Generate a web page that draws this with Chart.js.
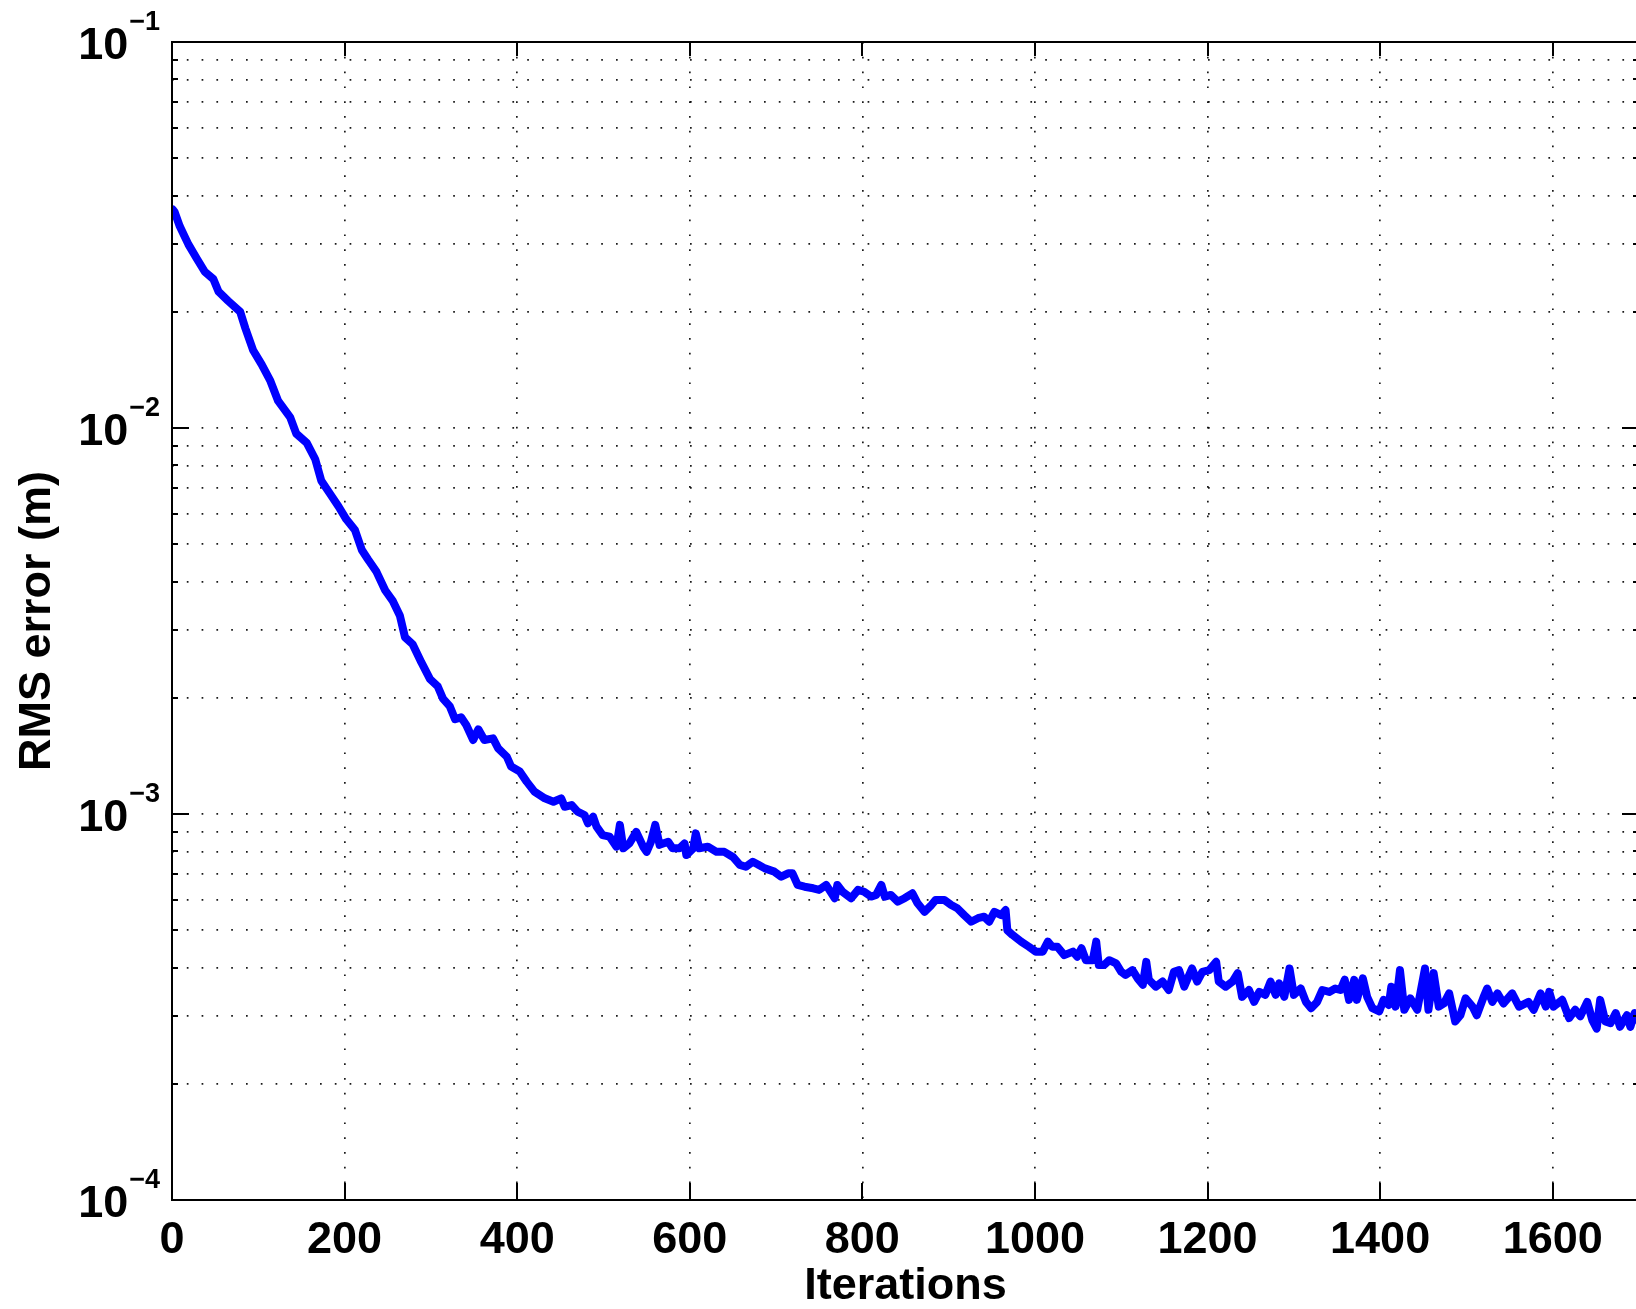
<!DOCTYPE html>
<html>
<head>
<meta charset="utf-8">
<title>RMS error vs iterations</title>
<script src="https://cdn.jsdelivr.net/npm/chart.js@4.4.1/dist/chart.umd.min.js"></script>
<style>
  html, body { margin: 0; padding: 0; background: #fff; overflow: hidden; }
  #wrap { width: 1636px; height: 1309px; overflow: hidden; }
  canvas { display: block; }
</style>
</head>
<body>
<div id="wrap"><canvas id="rmsChart" width="1700" height="1309"></canvas></div>
<script>
// ── Data ──
const iterations = [
  1, 3, 9, 19, 29, 38, 48, 54, 65, 79, 85, 94, 104, 114, 123, 137, 144, 156, 166, 173,
  183, 193, 202, 212, 220, 227, 237, 247, 256, 264, 270, 279, 289, 299, 308, 314, 322, 328,
  335, 341, 349, 355, 362, 372, 378, 388, 393, 403, 411, 420, 432, 442, 451, 455, 463, 470,
  478, 482, 488, 492, 499, 507, 515, 519, 523, 530, 538, 546, 550, 555, 560, 565, 575, 580,
  588, 594, 596, 604, 607, 611, 621, 631, 640, 650, 658, 665, 673, 679, 687, 698, 706, 714,
  719, 725, 733, 743, 750, 758, 768, 771, 777, 787, 795, 802, 810, 816, 822, 826, 833, 841,
  849, 858, 864, 872, 880, 885, 895, 903, 910, 918, 926, 934, 941, 947, 953, 961, 966, 968,
  974, 984, 993, 1001, 1009, 1015, 1020, 1026, 1034, 1044, 1049, 1054, 1059, 1067, 1071, 1074,
  1080, 1086, 1094, 1100, 1105, 1113, 1119, 1125, 1129, 1132, 1140, 1148, 1155, 1161, 1167, 1173,
  1182, 1188, 1194, 1202, 1210, 1213, 1221, 1229, 1235, 1240, 1248, 1254, 1260, 1267, 1273, 1279,
  1283, 1289, 1295, 1300, 1308, 1314, 1320, 1327, 1333, 1341, 1348, 1354, 1359, 1364, 1370, 1373,
  1380, 1385, 1391, 1399, 1404, 1410, 1413, 1418, 1423, 1428, 1435, 1443, 1452, 1456, 1462, 1468,
  1474, 1480, 1487, 1493, 1499, 1507, 1512, 1520, 1524, 1530, 1536, 1543, 1553, 1561, 1572, 1578,
  1586, 1592, 1596, 1601, 1611, 1619, 1626, 1632, 1640, 1646, 1651, 1655, 1661, 1667, 1673, 1678,
  1686, 1690, 1695, 1700
];

const rmsError = [
  0.0368, 0.0363, 0.0333, 0.0299, 0.0274, 0.0254, 0.0243, 0.02255, 0.02135, 0.0200, 0.01813, 0.0159,
  0.0146, 0.01324, 0.01175, 0.01066, 0.00967, 0.00916, 0.0083, 0.0073, 0.00676, 0.00626, 0.0058, 0.00544,
  0.00483, 0.00457, 0.00424, 0.0038, 0.00356, 0.00327, 0.00287, 0.00275, 0.00247, 0.002236, 0.00214, 0.00199,
  0.0019, 0.00176, 0.00178, 0.0017, 0.001555, 0.001657, 0.001555, 0.00157, 0.00148, 0.001407, 0.001327, 0.001288,
  0.001213, 0.001143, 0.001098, 0.001076, 0.001098, 0.001044, 0.001055, 0.001014, 0.000994, 0.000946, 0.000984, 0.000927,
  0.000882, 0.000874, 0.000823, 0.000937, 0.000815, 0.000839, 0.000899, 0.000823, 0.000798, 0.000847, 0.000937, 0.000832,
  0.000847, 0.000815, 0.000815, 0.000839, 0.000783, 0.000815, 0.000891, 0.000815, 0.000823, 0.000798, 0.000798, 0.000774,
  0.000738, 0.00073, 0.000752, 0.00074, 0.000723, 0.000709, 0.000688, 0.000702, 0.000702, 0.000655, 0.000648, 0.000642,
  0.000636, 0.000655, 0.000605, 0.000655, 0.000629, 0.000605, 0.000636, 0.000629, 0.000611, 0.000617, 0.000655, 0.000611,
  0.000617, 0.000593, 0.000605, 0.000623, 0.000587, 0.000558, 0.000581, 0.000599, 0.000599, 0.000581, 0.00057, 0.000547,
  0.000526, 0.000537, 0.000542, 0.000526, 0.000558, 0.000547, 0.000564, 0.0005, 0.000486, 0.000467, 0.000453, 0.00044,
  0.00044, 0.000467, 0.000453, 0.000453, 0.000431, 0.00044, 0.000427, 0.000449, 0.000418, 0.000418, 0.000467, 0.000406,
  0.000406, 0.000418, 0.00041, 0.00039, 0.000383, 0.000394, 0.000375, 0.000361, 0.000414, 0.000372, 0.000357, 0.000368,
  0.00035, 0.00039, 0.000394, 0.000357, 0.000398, 0.000368, 0.00039, 0.000394, 0.000414, 0.000368, 0.000357, 0.000368,
  0.000387, 0.000336, 0.00035, 0.000326, 0.000346, 0.00034, 0.000368, 0.00034, 0.000364, 0.000336, 0.000398, 0.00034,
  0.000353, 0.000326, 0.000314, 0.000326, 0.00035, 0.000346, 0.000353, 0.00035, 0.000372, 0.00033, 0.000372, 0.00033,
  0.000375, 0.000336, 0.000314, 0.000308, 0.00033, 0.00032, 0.000357, 0.000317, 0.000394, 0.000311, 0.000333, 0.000311,
  0.000398, 0.000311, 0.000387, 0.000317, 0.000323, 0.000343, 0.00029, 0.000301, 0.000333, 0.000317, 0.000301, 0.000336,
  0.000353, 0.000326, 0.000343, 0.000323, 0.000343, 0.000317, 0.000326, 0.000311, 0.000343, 0.000317, 0.000346, 0.000317,
  0.00033, 0.000296, 0.000311, 0.000299, 0.000326, 0.000292, 0.000278, 0.00033, 0.00029, 0.000287, 0.000305, 0.000281,
  0.000301, 0.000281, 0.000305, 0.00029
];

// ── Axes ──
const xTickValues = [0, 200, 400, 600, 800, 1000, 1200, 1400, 1600];
const yDecades    = [1e-4, 1e-3, 1e-2, 1e-1];
const yExponents  = ['\u22124', '\u22123', '\u22122', '\u22121'];
const yMantissas  = [1, 2, 3, 4, 5, 6, 7, 8, 9];
const yGridValues = yDecades.flatMap((d, i) => i === yDecades.length - 1 ? [d] : yMantissas.map(m => m * d));

const FONT = "'Liberation Sans', Arial, Helvetica, sans-serif";
const MAJOR_TICK = 17;
const MINOR_TICK = 6;

const isDecade = v => Math.abs(Math.log10(v) - Math.round(Math.log10(v))) < 1e-9;

// Box, inward ticks on all four sides and 10^k labels (superscripts need manual text)
const matlabFrame = {
  id: 'matlabFrame',
  afterDraw(chart) {
    const { ctx, chartArea: a, scales: { x, y } } = chart;
    ctx.save();
    ctx.strokeStyle = '#000';
    ctx.lineWidth = 2;
    ctx.strokeRect(a.left, a.top, a.right - a.left, a.bottom - a.top);

    ctx.beginPath();
    xTickValues.forEach(v => {
      const px = Math.round(x.getPixelForValue(v));
      ctx.moveTo(px, a.bottom); ctx.lineTo(px, a.bottom - MAJOR_TICK);
      ctx.moveTo(px, a.top);    ctx.lineTo(px, a.top + MAJOR_TICK - 3);
    });
    yGridValues.forEach(v => {
      const py = Math.round(y.getPixelForValue(v));
      const len = isDecade(v) ? MAJOR_TICK : MINOR_TICK;
      ctx.moveTo(a.left, py);  ctx.lineTo(a.left + len, py);
      ctx.moveTo(a.right, py); ctx.lineTo(a.right - len, py);
    });
    ctx.stroke();

    ctx.fillStyle = '#000';
    ctx.textBaseline = 'alphabetic';
    const labelRight = a.left - 12;
    yDecades.forEach((d, i) => {
      const py = y.getPixelForValue(d);
      ctx.font = `bold 27px ${FONT}`;
      const supW = ctx.measureText(yExponents[i]).width;
      ctx.textAlign = 'left';
      ctx.fillText(yExponents[i], labelRight - supW, py - 12);
      ctx.font = `bold 45px ${FONT}`;
      ctx.textAlign = 'right';
      ctx.fillText('10', labelRight - supW - 1, py + 17);
    });
    ctx.restore();
  }
};

const points = iterations.map((it, i) => ({ x: it, y: rmsError[i] }));

new Chart(document.getElementById('rmsChart'), {
  type: 'line',
  data: {
    datasets: [{
      label: 'RMS error',
      data: points,
      borderColor: '#0000FF',
      backgroundColor: '#0000FF',
      borderWidth: 8,
      borderJoinStyle: 'round',
      borderCapStyle: 'round',
      pointRadius: 0,
      tension: 0,
      fill: false
    }]
  },
  options: {
    responsive: false,
    animation: false,
    layout: { padding: { top: 42, right: 61, left: 0, bottom: 0 } },
    plugins: {
      legend: { display: false },
      tooltip: { enabled: false }
    },
    scales: {
      x: {
        type: 'linear',
        min: 0,
        max: 1700,
        afterBuildTicks: s => { s.ticks = xTickValues.map(v => ({ value: v })); },
        afterFit: s => { s.height = 109; },
        ticks: {
          color: '#000',
          padding: 14,
          maxRotation: 0,
          autoSkip: false,
          font: { size: 45, weight: 'bold', family: FONT },
          callback: v => String(v)
        },
        grid: { color: 'rgba(0,0,0,0.9)', lineWidth: 1.7, drawTicks: false },
        border: { display: false, dash: [1.7, 13.1] },
        title: {
          display: true,
          text: 'Iterations',
          color: '#000',
          padding: { top: 0, bottom: 0 },
          font: { size: 45, weight: 'bold', family: FONT, lineHeight: 1 }
        }
      },
      y: {
        type: 'logarithmic',
        min: 1e-4,
        max: 1e-1,
        afterBuildTicks: s => { s.ticks = yGridValues.map(v => ({ value: v })); },
        afterFit: s => { s.width = 172; },
        ticks: { display: false },
        grid: { color: 'rgba(0,0,0,0.9)', lineWidth: 1.7, drawTicks: false },
        border: { display: false, dash: [1.7, 13.1] },
        title: {
          display: true,
          text: 'RMS error (m)',
          color: '#000',
          padding: { top: 15, bottom: 0 },
          font: { size: 45, weight: 'bold', family: FONT, lineHeight: 1 }
        }
      }
    }
  },
  plugins: [matlabFrame]
});
</script>
</body>
</html>
